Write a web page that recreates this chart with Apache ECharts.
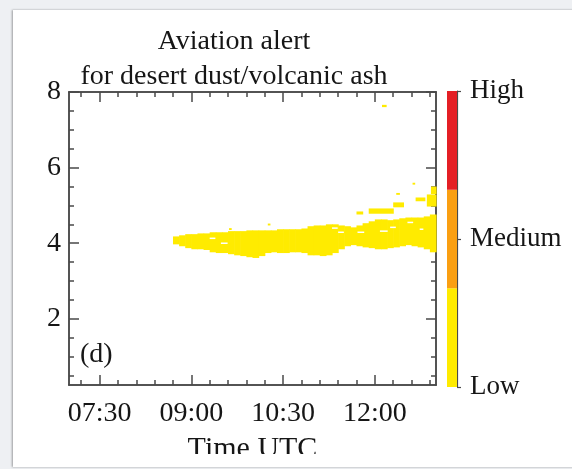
<!DOCTYPE html>
<html>
<head>
<meta charset="utf-8">
<script src="https://cdn.jsdelivr.net/npm/echarts@6/dist/echarts.min.js"></script>
<style>
  html, body { margin: 0; padding: 0; background: #eef0f3; }
  .panel { position: absolute; left: 13px; top: 10px; width: 580px; height: 457px; background: #fff; box-shadow: -1px 0 2px rgba(0,0,0,0.35); }
  .clip { position: absolute; left: 0; top: 0; width: 572px; height: 454px; overflow: hidden; }
  #chart { width: 572px; height: 469px; }
</style>
</head>
<body>
<div class="panel"></div>
<div class="clip"><div id="chart"></div></div>
<script>
// time in minutes after 00:00 UTC, altitude in km
const X_MIN = 420, X_MAX = 780
const Y_MIN = 0.25, Y_MAX = 8
const xLabelTicks = [450, 540, 630, 720]          // 07:30 09:00 10:30 12:00
const yLabelTicks = [2, 4, 6, 8]
const levelNames = ['Low', 'Medium', 'High']
const levelColors = ['#ffeb00', '#fa9f12', '#e41f25']

// main plume, one column per 6 minutes: start time, base, top
const plumeTime = [522, 528, 534, 540, 546, 552, 558, 564, 570, 576,
  582, 588, 594, 600, 606, 612, 618, 624, 630, 636,
  642, 648, 654, 660, 666, 672, 678, 684, 690, 696,
  702, 708, 714, 720, 726, 732, 738, 744, 750, 756,
  762, 768, 774]
const plumeBase = [3.97, 3.92, 3.87, 3.84, 3.84, 3.82, 3.76, 3.74, 3.74, 3.71,
  3.68, 3.66, 3.63, 3.61, 3.66, 3.74, 3.76, 3.74, 3.74, 3.76,
  3.76, 3.74, 3.68, 3.68, 3.66, 3.68, 3.74, 3.84, 3.92, 3.95,
  3.92, 3.89, 3.87, 3.84, 3.84, 3.87, 3.89, 3.92, 3.95, 3.92,
  3.89, 3.84, 3.76]
const plumeTop = [4.18, 4.21, 4.24, 4.24, 4.26, 4.26, 4.29, 4.29, 4.29, 4.32,
  4.32, 4.32, 4.34, 4.34, 4.34, 4.34, 4.34, 4.37, 4.37, 4.37,
  4.37, 4.39, 4.45, 4.47, 4.47, 4.5, 4.5, 4.47, 4.45, 4.42,
  4.47, 4.53, 4.58, 4.63, 4.63, 4.61, 4.63, 4.66, 4.68, 4.68,
  4.68, 4.71, 4.76]
const plumeWidth = 6

// detached bits of the layer
const fragStart = [702, 714, 738, 760, 771, 775, 741, 757, 727, 577, 615]
const fragEnd   = [708, 738, 748, 769, 780, 780, 744, 759, 731, 579, 617]
const fragBase  = [4.76, 4.78, 4.95, 5.11, 4.97, 5.3, 5.28, 5.55, 7.6, 4.35, 4.47]
const fragTop   = [4.84, 4.92, 5.08, 5.21, 5.29, 5.5, 5.33, 5.6, 7.66, 4.4, 4.52]

// small gaps inside the plume
const holeStart = [558, 569, 678, 684, 703, 725, 735, 752, 764]
const holeEnd   = [563, 575, 683, 689, 709, 732, 740, 757, 767]
const holeBase  = [4.11, 3.98, 4.38, 4.27, 4.27, 4.30, 4.40, 4.53, 4.35]
const holeTop   = [4.15, 4.02, 4.42, 4.31, 4.31, 4.34, 4.44, 4.57, 4.39]

const FONT = "'Liberation Serif', 'DejaVu Serif', serif"
const AXIS = '#4a4a4a'
const TEXT = '#161616'

const pad = (n) => String(n).padStart(2, '0')
const fmtTime = (v) => `${pad(Math.floor(v / 60))}:${pad(v % 60)}`

const xMinor = []
for (let t = 432; t < X_MAX; t += 18) xMinor.push(t)
const yMinor = []
for (let z = 0.5; z <= Y_MAX; z += 0.5) yMinor.push(z)

const plumeData = plumeTime.map((t, i) => [t, t + plumeWidth, plumeBase[i], plumeTop[i]])
  .concat(fragStart.map((t, i) => [t, fragEnd[i], fragBase[i], fragTop[i]]))
const holeData = holeStart.map((t, i) => [t, holeEnd[i], holeBase[i], holeTop[i]])

function cellRenderer(color) {
  return (params, api) => {
    const a = api.coord([api.value(0), api.value(3)])
    const b = api.coord([api.value(1), api.value(2)])
    return {
      type: 'rect',
      shape: { x: a[0], y: a[1], width: b[0] - a[0] + 0.6, height: b[1] - a[1] },
      style: { fill: color },
    }
  }
}

function xAxisDef(pos, ticks, len, labels) {
  return {
    type: 'value', gridIndex: 0, position: pos, min: X_MIN, max: X_MAX,
    axisLine: { show: true, lineStyle: { color: AXIS, width: 1.5 } },
    axisTick: { show: true, inside: true, length: len, customValues: ticks, lineStyle: { color: AXIS, width: 1.5 } },
    axisLabel: labels
      ? { show: true, customValues: xLabelTicks, formatter: fmtTime, fontFamily: FONT, fontSize: 28, color: TEXT, margin: 15 }
      : { show: false },
    splitLine: { show: false },
    name: labels ? 'Time UTC' : '',
    nameLocation: 'middle', nameGap: 49,
    nameTextStyle: { fontFamily: FONT, fontSize: 30, color: TEXT },
  }
}

function yAxisDef(pos, ticks, len, labels) {
  return {
    type: 'value', gridIndex: 0, position: pos, min: Y_MIN, max: Y_MAX,
    axisLine: { show: true, lineStyle: { color: AXIS, width: 1.5 } },
    axisTick: { show: true, inside: true, length: len, customValues: ticks, lineStyle: { color: AXIS, width: 1.5 } },
    axisLabel: labels
      ? { show: true, customValues: yLabelTicks, fontFamily: FONT, fontSize: 28, color: TEXT, margin: 8 }
      : { show: false },
    splitLine: { show: false },
  }
}

const chart = echarts.init(document.getElementById('chart'))
chart.setOption({
  animation: false,
  title: {
    text: 'Aviation alert\nfor desert dust/volcanic ash',
    left: 229, top: 19, textAlign: 'center',
    textStyle: { fontFamily: FONT, fontSize: 28, fontWeight: 'normal', color: TEXT, lineHeight: 35 },
  },
  grid: [
    { left: 69, top: 92, width: 367, height: 294 },
    { left: 447, top: 91, width: 10, height: 296 },
  ],
  xAxis: [
    xAxisDef('bottom', xMinor, 5, true),
    xAxisDef('bottom', xLabelTicks, 10, false),
    xAxisDef('top', xMinor, 5, false),
    xAxisDef('top', xLabelTicks, 10, false),
    { type: 'category', gridIndex: 1, data: ['bar'], show: false },
  ],
  yAxis: [
    yAxisDef('left', yMinor, 5, true),
    yAxisDef('left', yLabelTicks, 10, false),
    yAxisDef('right', yMinor, 5, false),
    yAxisDef('right', yLabelTicks, 10, false),
    {
      type: 'value', gridIndex: 1, position: 'right', min: 0, max: 3,
      axisLine: { show: true, lineStyle: { color: AXIS, width: 1.2 } },
      axisTick: { show: true, inside: false, length: 4, customValues: [0, 1.5, 3], lineStyle: { color: AXIS, width: 1.2 } },
      axisLabel: {
        show: true, customValues: [0, 1.5, 3], margin: 13,
        formatter: (v) => levelNames[Math.round(v / 1.5)],
        fontFamily: FONT, fontSize: 27, color: TEXT,
      },
      splitLine: { show: false },
    },
  ],
  series: [
    {
      type: 'custom', xAxisIndex: 0, yAxisIndex: 0,
      renderItem: cellRenderer(levelColors[0]),
      encode: { x: [0, 1], y: [2, 3] },
      data: plumeData, z: 2,
    },
    {
      type: 'custom', xAxisIndex: 0, yAxisIndex: 0,
      renderItem: cellRenderer('#ffffff'),
      encode: { x: [0, 1], y: [2, 3] },
      data: holeData, z: 3,
    },
  ].concat(levelColors.map((c) => ({
    type: 'bar', xAxisIndex: 4, yAxisIndex: 4, stack: 'scale',
    barWidth: '100%', data: [1], itemStyle: { color: c },
  }))),
  graphic: [
    {
      type: 'text', left: 80, top: 341,
      style: { text: '(d)', font: `28px ${FONT}`, fill: TEXT },
    },
  ],
})
</script>
</body>
</html>
